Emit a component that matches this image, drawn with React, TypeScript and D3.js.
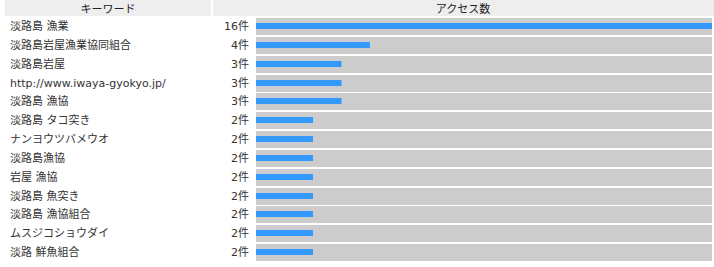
import React from 'react';
import * as d3 from 'd3';

const keywords = [
  '淡路島 漁業',
  '淡路島岩屋漁業協同組合',
  '淡路島岩屋',
  'http://www.iwaya-gyokyo.jp/',
  '淡路島 漁協',
  '淡路島 タコ突き',
  'ナンヨウツバメウオ',
  '淡路島漁協',
  '岩屋 漁協',
  '淡路島 魚突き',
  '淡路島 漁協組合',
  'ムスジコショウダイ',
  '淡路 鮮魚組合',
];
const counts = [16, 4, 3, 3, 3, 2, 2, 2, 2, 2, 2, 2, 2];
const headers = ['キーワード', 'アクセス数'];
const unit = '件';

const width = 714;
const height = 267;
const font = '"DejaVu Sans", "Noto Sans CJK JP", sans-serif';

const App = () => {
  // バーの長さ
  const x = d3.scaleLinear()
    .domain([0, d3.max(counts) || 16])
    .range([256, 712]);

  // 行の位置
  const y = d3.scaleBand<number>()
    .domain(d3.range(keywords.length))
    .range([17, 17 + 18.84 * keywords.length]);

  return (
    <svg
      width={width}
      height={height}
      style={{ position: 'absolute', left: 0, top: 0, fontFamily: font }}
    >
      <rect x={0} y={0} width={width} height={height} fill="#fff" />
      {/* ヘッダー */}
      <rect x={5} y={0} width={206} height={16} fill="#eeeeee" />
      <rect x={213} y={0} width={501} height={16} fill="#eeeeee" />
      <text x={108} y={12.5} fontSize={11} fill="#222" textAnchor="middle">
        {headers[0]}
      </text>
      <text x={463} y={12.5} fontSize={11} fill="#222" textAnchor="middle">
        {headers[1]}
      </text>

      {keywords.map((k, i) => {
        const y0 = Math.round(y(i) as number);
        return (
          <g key={i}>
            <text x={10} y={y0 + 13} fontSize={11} fill="#333">
              {k}
            </text>
            <text x={249} y={y0 + 13} fontSize={11} fill="#333" textAnchor="end">
              {counts[i] + unit}
            </text>
            <rect x={x(0)} y={y0 + 1} width={x.range()[1] - x(0)} height={17} fill="#cccccc" />
            <rect x={x(0)} y={y0 + 6} width={x(counts[i]) - x(0)} height={6} fill="#3399ff" />
          </g>
        );
      })}
    </svg>
  );
};

export default App;
